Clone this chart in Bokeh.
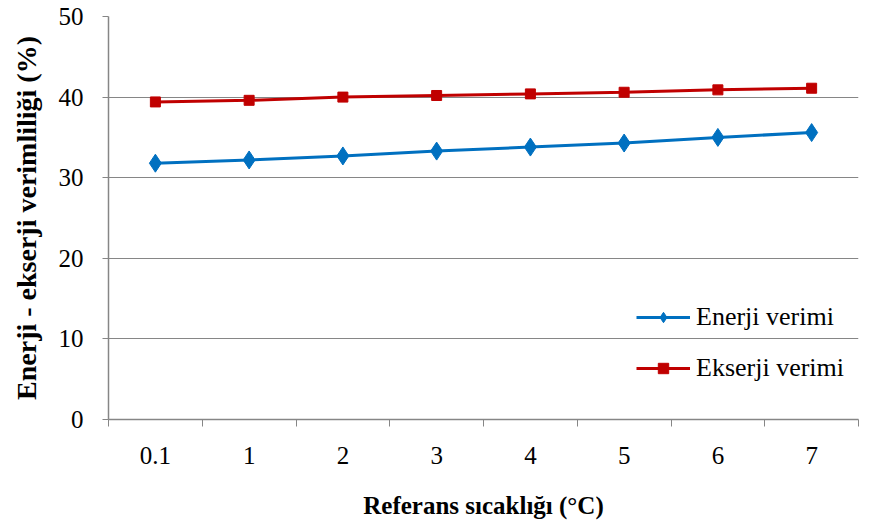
from bokeh.plotting import figure
from bokeh.models import Range1d, FixedTicker, Legend, LegendItem
from bokeh.embed import file_html
from bokeh.resources import INLINE

categories = ["0.1", "1", "2", "3", "4", "5", "6", "7"]
enerji_verimi = [31.8, 32.2, 32.7, 33.3, 33.8, 34.3, 35.0, 35.6]
ekserji_verimi = [39.4, 39.6, 40.0, 40.2, 40.4, 40.6, 40.9, 41.1]
y_ticks = [0, 10, 20, 30, 40, 50]

FONT = "Liberation Serif"
AX = "#868686"

n = len(categories)
xs = [i + 0.5 for i in range(n)]

p = figure(width=876, height=532, output_backend="svg", toolbar_location=None,
           x_range=Range1d(0, n), y_range=Range1d(0, 50),
           min_border_left=108, min_border_right=18, min_border_top=16, min_border_bottom=113)
p.outline_line_color = None
p.background_fill_color = "white"
p.border_fill_color = "white"

# x axis: labels at category centres, ticks at boundaries
xa = p.xaxis[0]
xa.ticker = FixedTicker(ticks=xs, minor_ticks=list(range(n + 1)))
xa.major_label_overrides = {x: c for x, c in zip(xs, categories)}
xa.major_tick_out = 0
xa.major_tick_in = 0
xa.minor_tick_out = 7
xa.minor_tick_in = 0
xa.minor_tick_line_color = AX
xa.axis_line_color = AX
xa.axis_line_width = 1.5
xa.major_label_text_font = FONT
xa.major_label_text_font_size = "25px"
xa.major_label_text_color = "black"
xa.major_label_standoff = 20
xa.axis_label = "Referans sıcaklığı (°C)"
xa.axis_label_text_font = FONT
xa.axis_label_text_font_size = "25px"
xa.axis_label_text_font_style = "bold"
xa.axis_label_text_color = "black"
xa.axis_label_standoff = 25

ya = p.yaxis[0]
ya.ticker = FixedTicker(ticks=y_ticks, minor_ticks=[])
ya.major_tick_out = 6
ya.major_tick_in = 0
ya.major_tick_line_color = AX
ya.axis_line_color = AX
ya.axis_line_width = 1.5
ya.major_label_text_font = FONT
ya.major_label_text_font_size = "25px"
ya.major_label_text_color = "black"
ya.major_label_standoff = 19
ya.axis_label = "Enerji - ekserji verimliliği (%)"
ya.axis_label_text_font = FONT
ya.axis_label_text_font_size = "28px"
ya.axis_label_text_font_style = "bold"
ya.axis_label_text_color = "black"
ya.axis_label_standoff = 14

p.xgrid.grid_line_color = None
p.ygrid.grid_line_color = AX
p.ygrid.grid_line_width = 1.2

blue = "#0070C0"
red = "#C00000"
l1 = p.line(xs, enerji_verimi, line_color=blue, line_width=3)
m1 = p.scatter(xs, enerji_verimi, marker="diamond", size=18, fill_color=blue, line_color=blue)
l2 = p.line(xs, ekserji_verimi, line_color=red, line_width=3)
m2 = p.scatter(xs, ekserji_verimi, marker="square", size=10, fill_color=red, line_color=red)

legend = Legend(items=[LegendItem(label="Enerji verimi", renderers=[l1, m1]),
                       LegendItem(label="Ekserji verimi", renderers=[l2, m2])],
                location=(528, 36), orientation="vertical")
legend.background_fill_alpha = 0
legend.border_line_alpha = 0
legend.padding = 0
legend.margin = 0
legend.spacing = 21
legend.glyph_width = 54
legend.glyph_height = 26
legend.label_height = 26
legend.label_standoff = 6
legend.label_text_font = FONT
legend.label_text_font_size = "26px"
legend.label_text_color = "black"
p.add_layout(legend, "center")

open("out.html", "w").write(file_html(p, INLINE))
